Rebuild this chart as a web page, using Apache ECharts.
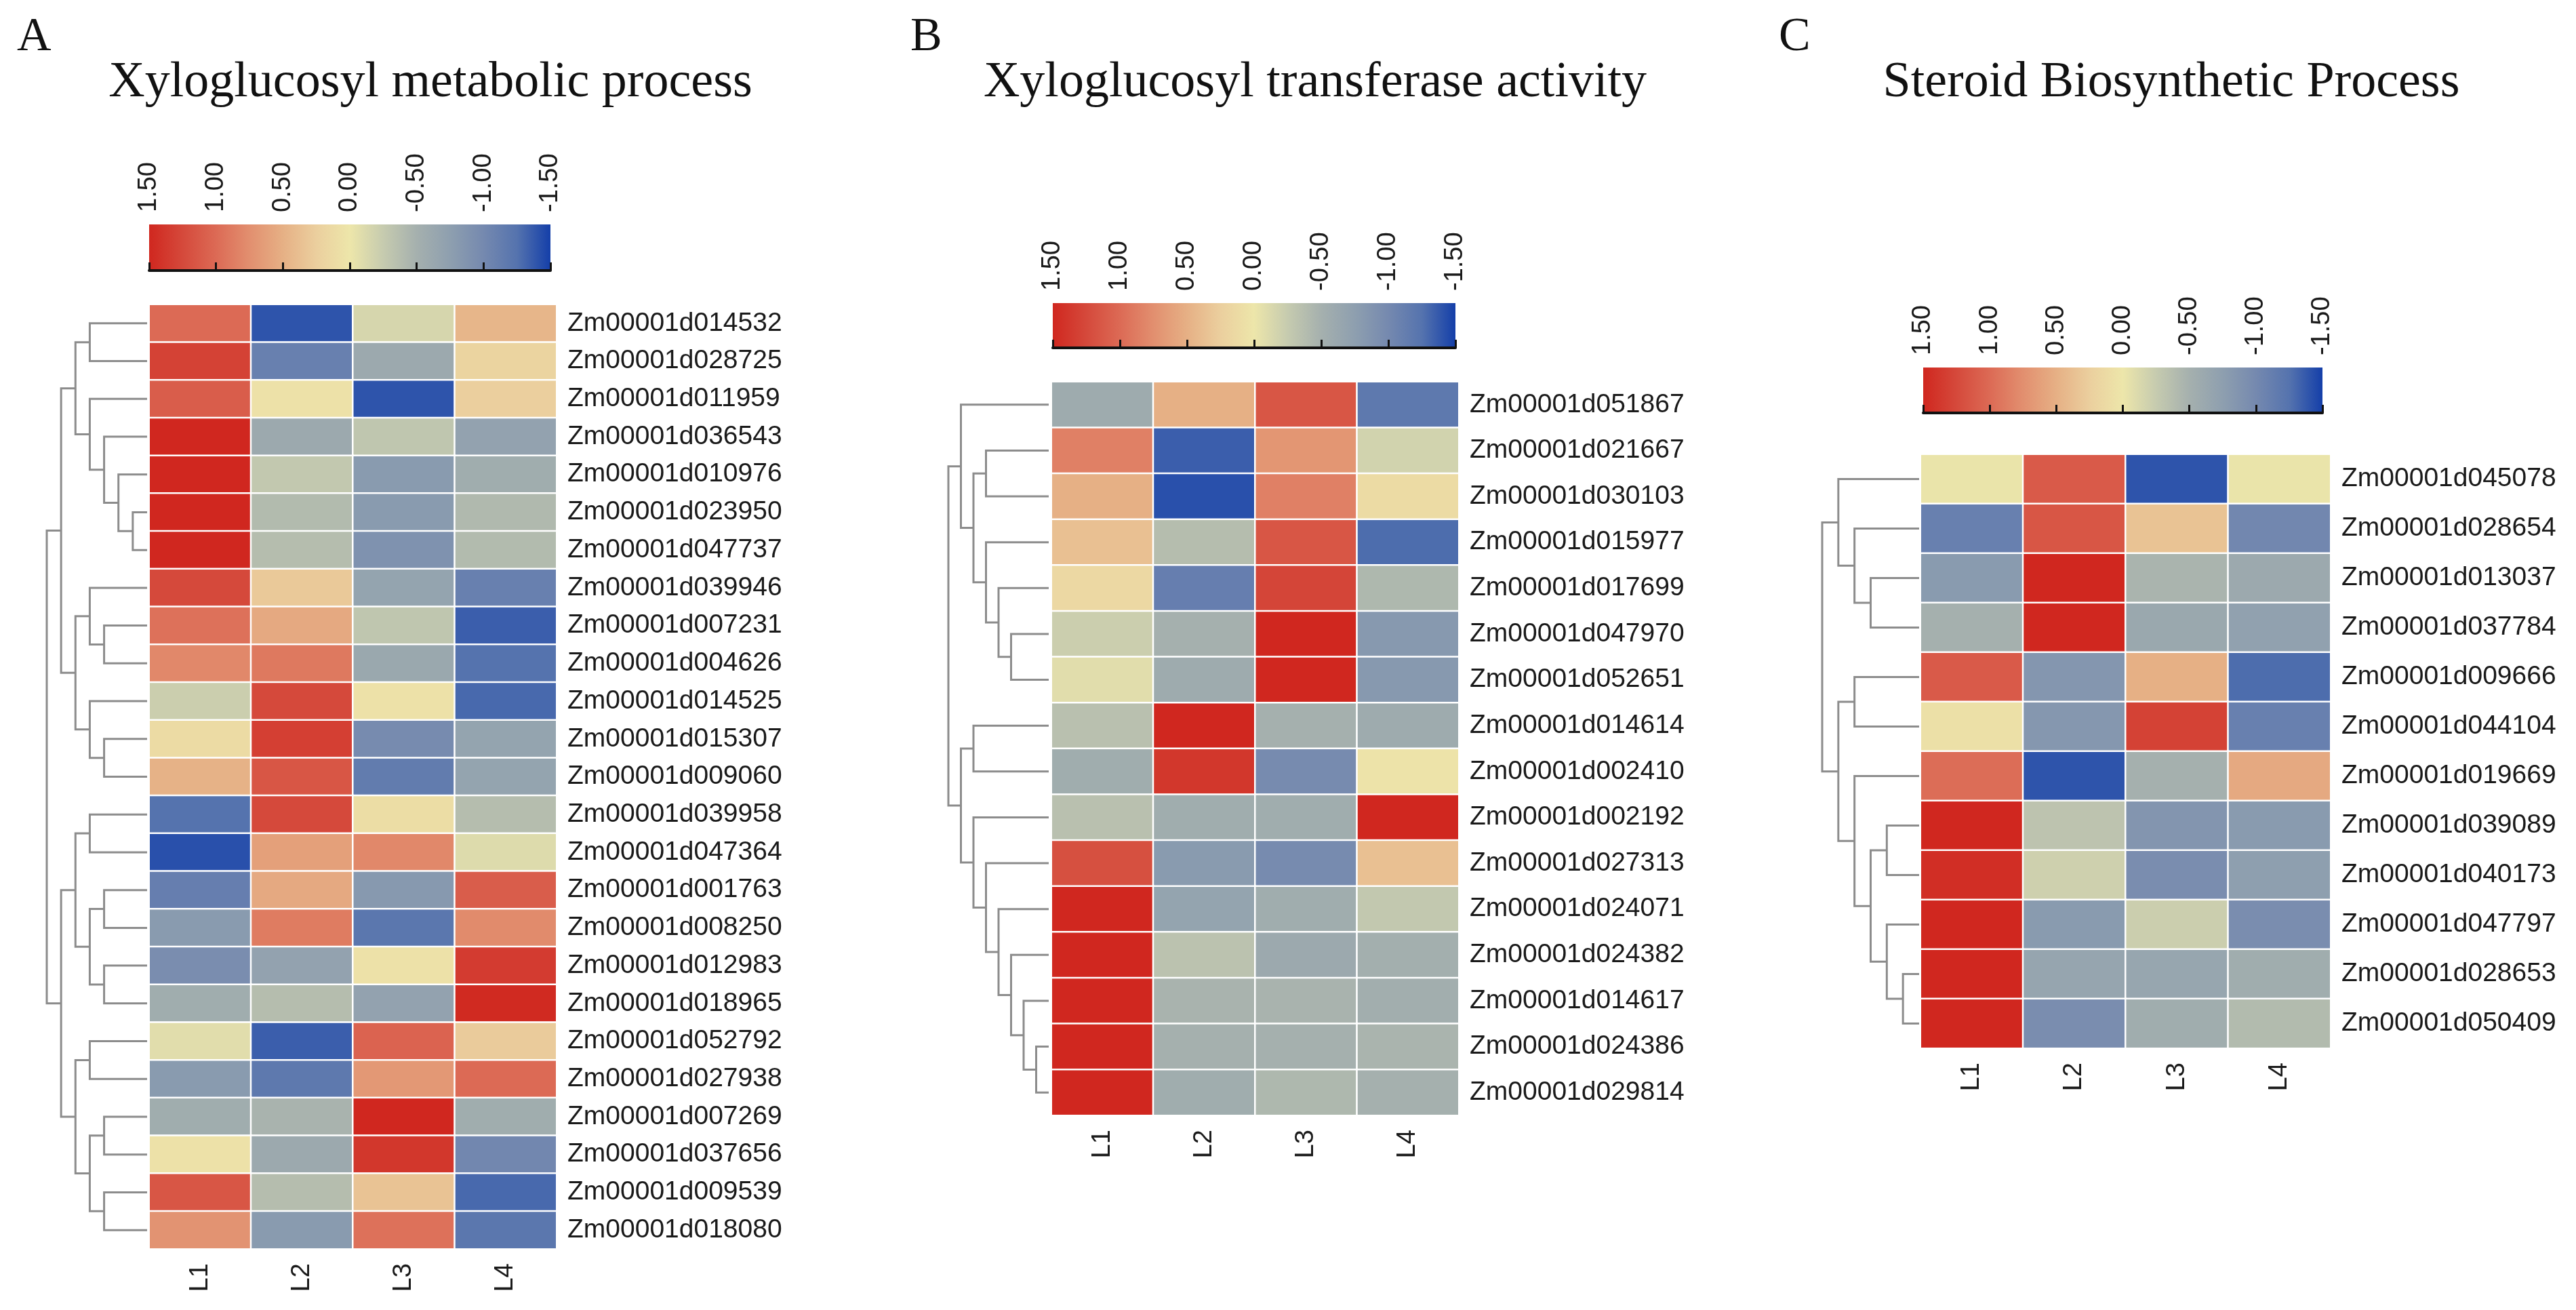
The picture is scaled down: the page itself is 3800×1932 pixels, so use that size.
<!DOCTYPE html>
<html>
<head>
<meta charset="utf-8">
<script src="https://cdn.jsdelivr.net/npm/echarts@6/dist/echarts.min.js"></script>
<style>html,body{margin:0;padding:0;background:#fff}#c{width:3800px;height:1932px}</style>
</head>
<body>
<div id="c"></div>
<script>
// ---------------- DATA ----------------
const samples = ['L1', 'L2', 'L3', 'L4'];
const colorTicks = [1.5, 1.0, 0.5, 0.0, -0.5, -1.0, -1.5];

const titleA = 'Xyloglucosyl metabolic process';
const titleB = 'Xyloglucosyl transferase activity';
const titleC = 'Steroid Biosynthetic Process';

const genesA = ['Zm00001d014532','Zm00001d028725','Zm00001d011959','Zm00001d036543','Zm00001d010976',
  'Zm00001d023950','Zm00001d047737','Zm00001d039946','Zm00001d007231','Zm00001d004626',
  'Zm00001d014525','Zm00001d015307','Zm00001d009060','Zm00001d039958','Zm00001d047364',
  'Zm00001d001763','Zm00001d008250','Zm00001d012983','Zm00001d018965','Zm00001d052792',
  'Zm00001d027938','Zm00001d007269','Zm00001d037656','Zm00001d009539','Zm00001d018080'];
const valuesA = [
  [1.0, -1.4, -0.15, 0.45],
  [1.3, -1.1, -0.6, 0.2],
  [1.1, 0.05, -1.4, 0.25],
  [1.5, -0.6, -0.3, -0.7],
  [1.5, -0.28, -0.8, -0.55],
  [1.5, -0.4, -0.8, -0.42],
  [1.5, -0.38, -0.9, -0.4],
  [1.25, 0.3, -0.68, -1.1],
  [0.95, 0.55, -0.3, -1.35],
  [0.8, 0.9, -0.62, -1.25],
  [-0.22, 1.25, 0.05, -1.3],
  [0.12, 1.32, -0.98, -0.68],
  [0.48, 1.15, -1.15, -0.68],
  [-1.25, 1.25, 0.1, -0.38],
  [-1.42, 0.62, 0.8, -0.1],
  [-1.12, 0.55, -0.82, 1.1],
  [-0.8, 0.88, -1.2, 0.78],
  [-0.95, -0.7, 0.05, 1.35],
  [-0.55, -0.38, -0.7, 1.48],
  [-0.08, -1.35, 1.05, 0.28],
  [-0.8, -1.18, 0.68, 1.0],
  [-0.55, -0.47, 1.5, -0.55],
  [0.05, -0.6, 1.38, -1.02],
  [1.15, -0.38, 0.35, -1.3],
  [0.72, -0.8, 0.95, -1.2]
];
// dendrogram: [mergeHeight, left, right]; a number is a row index
const treeA = [7,
  [6,
    [5, [4, 0, 1], [4, 2, [3, 3, [2, 4, [1, 5, 6]]]]],
    [5, [4, 7, [3, 8, 9]], [4, 10, [3, 11, 12]]]
  ],
  [6,
    [5, [4, 13, 14], [4, [3, 15, 16], [3, 17, 18]]],
    [5, [4, 19, 20], [4, [3, 21, 22], [3, 23, 24]]]
  ]
];

const genesB = ['Zm00001d051867','Zm00001d021667','Zm00001d030103','Zm00001d015977','Zm00001d017699',
  'Zm00001d047970','Zm00001d052651','Zm00001d014614','Zm00001d002410','Zm00001d002192',
  'Zm00001d027313','Zm00001d024071','Zm00001d024382','Zm00001d014617','Zm00001d024386','Zm00001d029814'];
const valuesB = [
  [-0.58, 0.5, 1.15, -1.18],
  [0.85, -1.35, 0.7, -0.18],
  [0.5, -1.42, 0.85, 0.12],
  [0.37, -0.38, 1.15, -1.28],
  [0.15, -1.12, 1.28, -0.43],
  [-0.22, -0.5, 1.5, -0.82],
  [-0.08, -0.58, 1.5, -0.82],
  [-0.35, 1.5, -0.5, -0.58],
  [-0.55, 1.38, -0.98, 0.03],
  [-0.35, -0.55, -0.55, 1.5],
  [1.2, -0.8, -0.98, 0.37],
  [1.5, -0.68, -0.55, -0.28],
  [1.5, -0.33, -0.6, -0.52],
  [1.5, -0.47, -0.47, -0.53],
  [1.5, -0.5, -0.5, -0.46],
  [1.5, -0.55, -0.43, -0.5]
];
const treeB = [8,
  [7, 0, [6, [5, 1, 2], [5, 3, [4, 4, [3, 5, 6]]]]],
  [7, [6, 7, 8], [6, 9, [5, 10, [4, 11, [3, 12, [2, 13, [1, 14, 15]]]]]]]
];

const genesC = ['Zm00001d045078','Zm00001d028654','Zm00001d013037','Zm00001d037784','Zm00001d009666',
  'Zm00001d044104','Zm00001d019669','Zm00001d039089','Zm00001d040173','Zm00001d047797',
  'Zm00001d028653','Zm00001d050409'];
const valuesC = [
  [-0.02, 1.12, -1.4, -0.02],
  [-1.1, 1.15, 0.35, -1.02],
  [-0.8, 1.5, -0.46, -0.6],
  [-0.5, 1.5, -0.62, -0.72],
  [1.12, -0.85, 0.5, -1.28],
  [0.07, -0.84, 1.3, -1.1],
  [0.98, -1.4, -0.5, 0.55],
  [1.5, -0.32, -0.86, -0.8],
  [1.45, -0.2, -0.95, -0.75],
  [1.5, -0.8, -0.22, -0.95],
  [1.5, -0.66, -0.65, -0.55],
  [1.5, -0.95, -0.55, -0.4]
];
const treeC = [6,
  [5, 0, [4, 1, [3, 2, 3]]],
  [5, [4, 4, 5], [4, 6, [3, [2, 7, 8], [2, 9, [1, 10, 11]]]]]
];

// ---------------- STYLE / LAYOUT ----------------
const palette = ['#143fa9','#5573ae','#7589af','#8e9faf','#a5b0ae','#c6cbaf','#ede6aa',
                 '#ebcf9e','#e6b085','#e28f6f','#dc6a55','#d5493b','#d0271f']; // -1.5 .. 1.5
const SANS = 'Liberation Sans';
const SERIF = 'Liberation Serif';

const panels = [
  {letter:'A', lx:25, title:titleA, tx:635, ty:86, genes:genesA, values:valuesA, tree:treeA,
   heat:{left:220, top:449, width:601, height:1393},
   dend:{left:69, width:148}, cbar:{left:220, top:331, width:592, height:68}},
  {letter:'B', lx:1343, title:titleB, tx:1940, ty:86, genes:genesB, values:valuesB, tree:treeB,
   heat:{left:1551, top:563, width:601, height:1082},
   dend:{left:1399, width:148}, cbar:{left:1553, top:447, width:594, height:66}},
  {letter:'C', lx:2624, title:titleC, tx:3203, ty:86, genes:genesC, values:valuesC, tree:treeC,
   heat:{left:2833, top:670, width:605, height:876},
   dend:{left:2688, width:143}, cbar:{left:2837, top:542, width:589, height:67}}
];

function walk(node, out) {
  if (typeof node === 'number') return {y: node, h: 0};
  const a = walk(node[1], out), b = walk(node[2], out);
  out.push([node[0], a.y, b.y, a.h, b.h]);
  return {y: (a.y + b.y) / 2, h: node[0]};
}

const grid = [], xAxis = [], yAxis = [], series = [], graphic = [];
const heatSeriesIdx = [];

panels.forEach((p) => {
  // heatmap grid
  const gH = grid.length;
  grid.push(Object.assign({containLabel:false}, p.heat));
  xAxis.push({type:'category', gridIndex:gH, data:samples, position:'bottom',
    axisLine:{show:false}, axisTick:{show:false}, splitLine:{show:false},
    axisLabel:{rotate:90, margin:21, fontSize:38, fontFamily:SANS, color:'#1a1a1a'}});
  yAxis.push({type:'category', gridIndex:gH, data:p.genes, inverse:true, position:'right',
    axisLine:{show:false}, axisTick:{show:false}, splitLine:{show:false},
    axisLabel:{margin:16, fontSize:39, fontFamily:SANS, color:'#1a1a1a'}});
  const data = [];
  p.values.forEach((row, r) => row.forEach((v, c) => data.push([c, r, v])));
  heatSeriesIdx.push(series.length);
  series.push({type:'heatmap', xAxisIndex:xAxis.length-1, yAxisIndex:yAxis.length-1, data,
    itemStyle:{borderColor:'#ffffff', borderWidth:2.5}, emphasis:{disabled:true}});

  // dendrogram grid
  const gD = grid.length;
  const hMax = p.tree[0];
  grid.push({left:p.dend.left, width:p.dend.width, top:p.heat.top, height:p.heat.height});
  xAxis.push({type:'value', gridIndex:gD, min:0, max:hMax, inverse:true, show:false});
  yAxis.push({type:'value', gridIndex:gD, min:-0.5, max:p.genes.length - 0.5, inverse:true, show:false});
  const segs = [];
  walk(p.tree, segs);
  series.push({type:'custom', xAxisIndex:xAxis.length-1, yAxisIndex:yAxis.length-1, data:segs,
    silent:true,
    renderItem: function (params, api) {
      const p1 = api.coord([api.value(3), api.value(1)]);
      const p2 = api.coord([api.value(0), api.value(1)]);
      const p3 = api.coord([api.value(0), api.value(2)]);
      const p4 = api.coord([api.value(4), api.value(2)]);
      return {type:'polyline', shape:{points:[p1, p2, p3, p4]},
        style:{stroke:'#8c8c8c', lineWidth:3, fill:null}};
    }});

  // colour bar grid
  const gC = grid.length;
  const stops = palette.slice().reverse().map((c, k) => ({offset: k / (palette.length - 1), color: c}));
  grid.push(Object.assign({show:true, borderWidth:0,
    backgroundColor:{type:'linear', x:0, y:0, x2:1, y2:0, colorStops:stops}}, p.cbar));
  xAxis.push({type:'value', gridIndex:gC, min:-1.5, max:1.5, interval:0.5, inverse:true, position:'top',
    axisLine:{show:true, lineStyle:{color:'#111', width:4}},
    axisTick:{show:true, length:12, lineStyle:{color:'#111', width:3}},
    splitLine:{show:false},
    axisLabel:{rotate:90, margin:18, fontSize:38, fontFamily:SANS, color:'#1a1a1a',
      formatter: v => (colorTicks.indexOf(v) >= 0 ? v.toFixed(2) : '')}});
  yAxis.push({type:'value', gridIndex:gC, min:0, max:1, show:false});

  // texts
  graphic.push({type:'text', left:p.lx, top:21,
    style:{text:p.letter, font:'70px "' + SERIF + '"', fill:'#111'}});
  graphic.push({type:'text', x:p.tx, y:p.ty,
    style:{text:p.title, font:'74px "' + SERIF + '"', fill:'#111', align:'center', verticalAlign:'top'}});
});

const chart = echarts.init(document.getElementById('c'), null, {renderer:'canvas'});
chart.setOption({
  animation:false,
  backgroundColor:'#ffffff',
  grid, xAxis, yAxis, series, graphic,
  visualMap:{type:'continuous', show:false, min:-1.5, max:1.5, seriesIndex:heatSeriesIdx,
    inRange:{color:palette}}
});
</script>
</body>
</html>
